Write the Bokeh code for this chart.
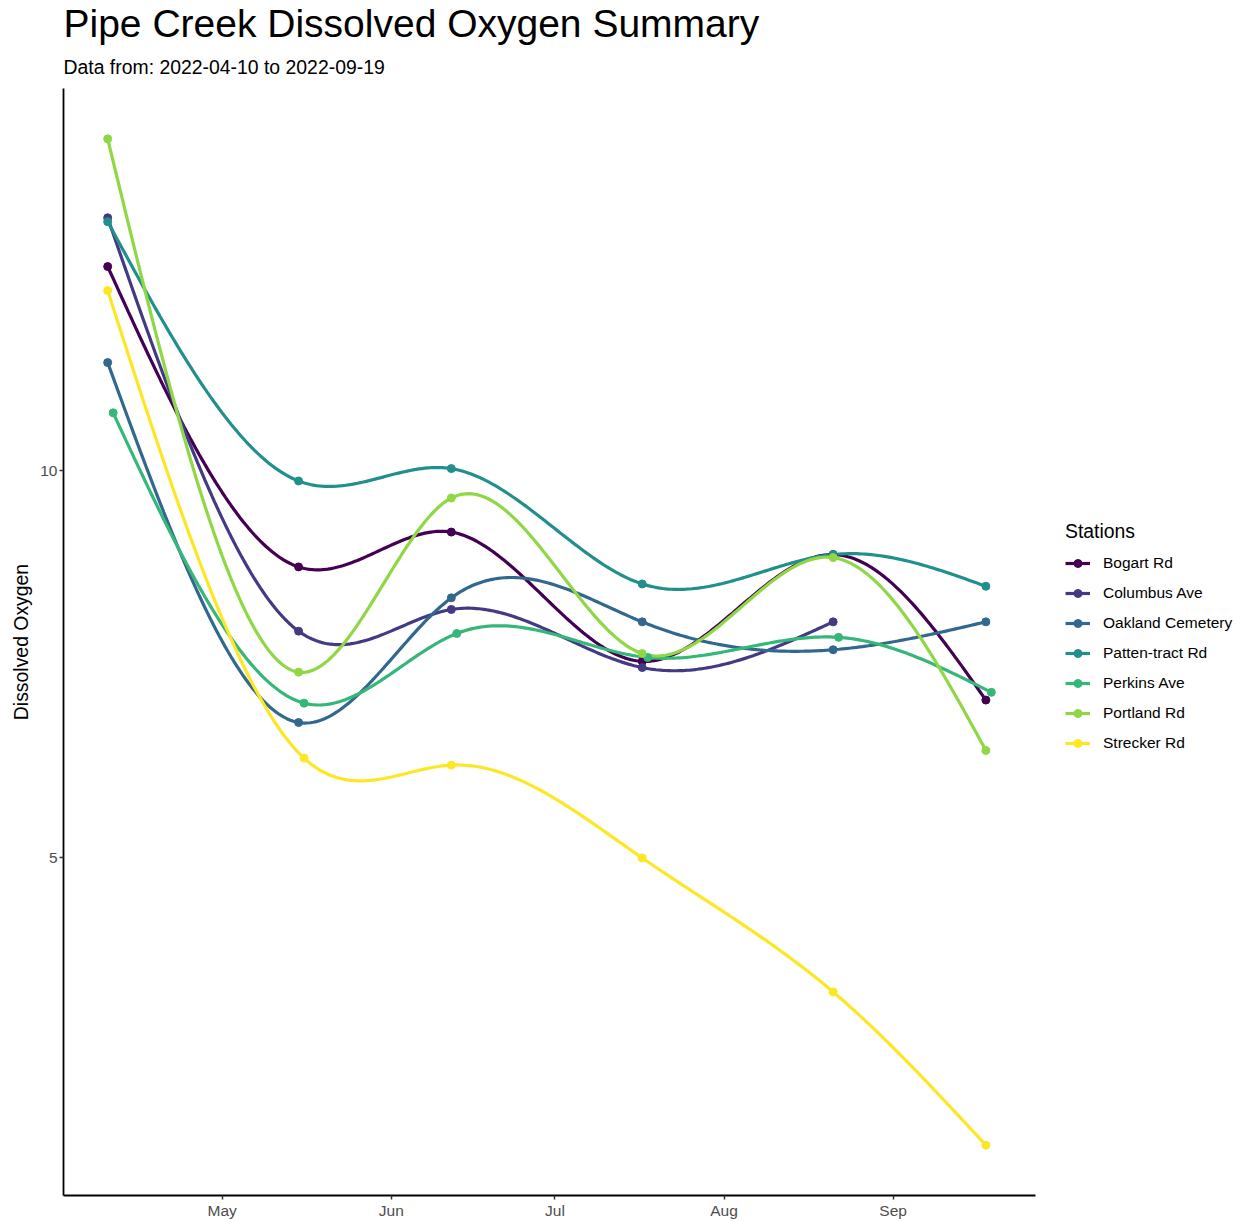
import numpy as np
import pandas as pd
from bokeh.plotting import figure
from bokeh.models import (Range1d, FixedTicker, DatetimeTickFormatter, Legend,
                          LegendItem, Title, ColumnDataSource)
from bokeh.embed import file_html
from bokeh.resources import INLINE

# ---------------- data ----------------
stations = ["Bogart Rd", "Columbus Ave", "Oakland Cemetery", "Patten-tract Rd",
            "Perkins Ave", "Portland Rd", "Strecker Rd"]
colors = ["#440154", "#443A83", "#31688E", "#21908C", "#35B779", "#8FD744", "#FDE725"]

dates_main = ["2022-04-10", "2022-05-15", "2022-06-12", "2022-07-17", "2022-08-21", "2022-09-18"]
dates_perkins = ["2022-04-11", "2022-05-16", "2022-06-13", "2022-07-18", "2022-08-22", "2022-09-19"]
dates_columbus = ["2022-04-10", "2022-05-15", "2022-06-12", "2022-07-17", "2022-08-21"]
dates_strecker = ["2022-04-10", "2022-05-16", "2022-06-12", "2022-07-17", "2022-08-21", "2022-09-18"]

bogart = [12.64, 8.76, 9.21, 7.54, 8.92, 7.04]
columbus = [13.27, 7.93, 8.21, 7.46, 8.05]
oakland = [11.40, 6.75, 8.36, 8.05, 7.69, 8.05]
patten = [13.22, 9.87, 10.03, 8.54, 8.92, 8.51]
perkins = [10.75, 7.00, 7.90, 7.59, 7.85, 7.14]
portland = [14.29, 7.40, 9.65, 7.64, 8.88, 6.39]
strecker = [12.33, 6.29, 6.20, 5.00, 3.27, 1.29]

month_ticks = ["2022-05-01", "2022-06-01", "2022-07-01", "2022-08-01", "2022-09-01"]
y_ticks = [5, 10]

series_dates = [dates_main, dates_columbus, dates_main, dates_main, dates_perkins, dates_main,
                dates_strecker]
series_vals = [bogart, columbus, oakland, patten, perkins, portland, strecker]

FONT = "Liberation Sans"
DAY = 86400000.0
W, H = 1244, 1222
LEFT = 63          # frame left
PANEL_W = 972      # width of the data panel (axis line length)
BOTTOM = 27        # space below the panel


def to_ms(lst):
    return pd.to_datetime(lst).asi8 / 1e6


def natural_spline(x, y, xs):
    x = np.asarray(x, float)
    y = np.asarray(y, float)
    n = len(x)
    h = np.diff(x)
    A = np.zeros((n, n))
    b = np.zeros(n)
    A[0, 0] = 1.0
    A[-1, -1] = 1.0
    for i in range(1, n - 1):
        A[i, i - 1] = h[i - 1]
        A[i, i] = 2 * (h[i - 1] + h[i])
        A[i, i + 1] = h[i]
        b[i] = 3 * ((y[i + 1] - y[i]) / h[i] - (y[i] - y[i - 1]) / h[i - 1])
    c = np.linalg.solve(A, b)
    bb = (y[1:] - y[:-1]) / h - h * (2 * c[:-1] + c[1:]) / 3
    d = (c[1:] - c[:-1]) / (3 * h)
    idx = np.clip(np.searchsorted(x, xs, side="right") - 1, 0, n - 2)
    t = xs - x[idx]
    return y[idx] + bb[idx] * t + c[idx] * t ** 2 + d[idx] * t ** 3


# ranges with 5% expansion (ggplot style)
all_x = np.concatenate([to_ms(d) for d in series_dates])
all_y = np.concatenate([np.asarray(v, float) for v in series_vals])
xpad = 0.05 * (all_x.max() - all_x.min())
ypad = 0.05 * (all_y.max() - all_y.min())
x0, x1 = all_x.min() - xpad, all_x.max() + xpad
# the frame continues to the right edge so that the legend can live there
frame_w = W - LEFT
x_end = x0 + (x1 - x0) * frame_w / PANEL_W

p = figure(width=W, height=H, x_axis_type="datetime",
           output_backend="svg", toolbar_location=None, title=None,
           x_range=Range1d(x0, x_end),
           y_range=Range1d(all_y.min() - ypad, all_y.max() + ypad),
           min_border_left=LEFT, min_border_right=0, min_border_top=0,
           min_border_bottom=BOTTOM)

p.add_layout(Title(text="Data from: 2022-04-10 to 2022-09-19", text_font=FONT,
                   text_font_size="19.4px", text_font_style="normal", text_color="black",
                   align="left", standoff=21), "above")
p.add_layout(Title(text="Pipe Creek Dissolved Oxygen Summary", text_font=FONT,
                   text_font_size="39px", text_font_style="normal", text_color="black",
                   align="left", standoff=-2), "above")

p.xgrid.visible = False
p.ygrid.visible = False
p.outline_line_color = None
p.background_fill_color = "white"
p.border_fill_color = "white"

for ax in (p.xaxis[0], p.yaxis[0]):
    ax.axis_line_color = "black"
    ax.axis_line_width = 1.8
    ax.major_tick_line_color = "#333333"
    ax.major_tick_line_width = 1.5
    ax.major_tick_out = 4
    ax.major_tick_in = 0
    ax.minor_tick_line_color = None
    ax.major_label_text_color = "#4D4D4D"
    ax.major_label_text_font = FONT
    ax.major_label_text_font_size = "15.5px"
    ax.major_label_standoff = 2

p.xaxis.bounds = (x0, x1)
p.yaxis.ticker = FixedTicker(ticks=y_ticks)
p.xaxis.ticker = FixedTicker(ticks=list(to_ms(month_ticks)))
p.xaxis.formatter = DatetimeTickFormatter(milliseconds="%b", seconds="%b", minsec="%b",
                                          minutes="%b", hourmin="%b", hours="%b", days="%b",
                                          months="%b", years="%b")
p.yaxis.axis_label = "Dissolved Oxygen"
p.yaxis.axis_label_text_font = FONT
p.yaxis.axis_label_text_font_size = "19.4px"
p.yaxis.axis_label_text_font_style = "normal"
p.yaxis.axis_label_text_color = "black"
p.yaxis.axis_label_standoff = 5

line_rs = []
for name, dts, vals, col in zip(stations, series_dates, series_vals, colors):
    xm = to_ms(dts)
    xd = (xm - xm[0]) / DAY
    xs = np.linspace(xd[0], xd[-1], 300)
    ys = natural_spline(xd, vals, xs)
    r = p.line(x=xs * DAY + xm[0], y=ys, line_color=col, line_width=3.2)
    line_rs.append(r)

items = []
for name, dts, vals, col, lr in zip(stations, series_dates, series_vals, colors, line_rs):
    src = ColumnDataSource(dict(x=to_ms(dts), y=vals))
    pr = p.scatter(x="x", y="y", source=src, size=8, fill_color=col, line_color=col)
    items.append(LegendItem(label=name, renderers=[lr, pr]))

legend = Legend(items=items, title="Stations", location=(PANEL_W + 30, 442),
                title_text_font=FONT, title_text_font_size="19.4px",
                title_text_font_style="normal", title_text_color="black",
                title_standoff=10,
                label_text_font=FONT, label_text_font_size="15.5px", label_text_color="black",
                glyph_width=25, glyph_height=20, label_height=20, label_standoff=13,
                spacing=10, padding=10, margin=0,
                border_line_color=None, background_fill_alpha=0)
p.add_layout(legend, "center")

open("out.html", "w").write(file_html(p, INLINE))
